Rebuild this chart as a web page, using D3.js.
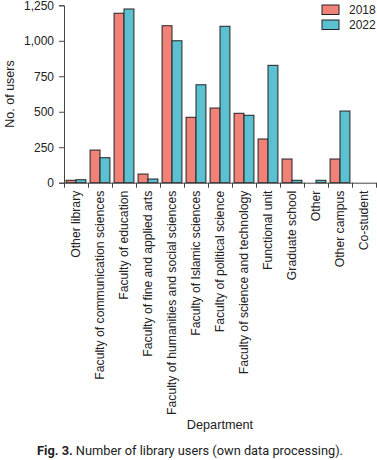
<!DOCTYPE html>
<html><head><meta charset="utf-8">
<script src="https://cdn.jsdelivr.net/npm/d3@7"></script>
<style>body{margin:0;background:#fff}svg{display:block}</style>
</head><body><svg id="c" width="377" height="460"></svg>
<script>
const categories = ["Other library","Faculty of communication sciences","Faculty of education","Faculty of fine and applied arts","Faculty of humanities and social sciences","Faculty of Islamic sciences","Faculty of political science","Faculty of science and technology","Functional unit","Graduate school","Other","Other campus","Co-student"];
const series = ["2018","2022"];
const values2018 = [17,230,1194,61,1106,461,526,489,308,167,0,167,0];
const values2022 = [21,176,1224,26,1000,690,1102,475,827,17,17,505,0];
const yTicks = [0,250,500,750,1000,1250];
const colors = ["#F1827A","#5BC1D0"];

const svg = d3.select("#c");
const font = "'Liberation Sans', Arial, sans-serif";
const L=64, R=376, T=5.3, B=182.7;
const x = d3.scaleBand().domain(categories).range([L,R]).paddingInner(0).paddingOuter(0);
const xs = d3.scaleBand().domain(series).range([0,x.bandwidth()]).paddingInner(0).paddingOuter(0.21);
const y = d3.scaleLinear().domain([0,1250]).range([B,T]);
const idx = d3.scaleLinear().domain([0,categories.length]).range([L,R]);

const data = categories.map((c,i)=>({c, v:[values2018[i],values2022[i]]}));
const g = svg.append("g");
g.selectAll("g.grp").data(data).join("g").attr("transform",d=>`translate(${x(d.c)},0)`)
 .selectAll("rect").data(d=>d.v.map((v,j)=>({s:series[j],v,j}))).join("rect")
 .filter(d=>d.v>0)
 .attr("x",d=>xs(d.s)).attr("width",xs.bandwidth())
 .attr("y",d=>y(d.v)).attr("height",d=>y(0)-y(d.v))
 .attr("fill",d=>colors[d.j]).attr("stroke","#222").attr("stroke-width",1);

// y axis
const ya = svg.append("g").attr("transform",`translate(${L},0)`)
 .call(d3.axisLeft(y).tickValues(yTicks).tickFormat(d3.format(",")).tickSize(5).tickPadding(5));
ya.selectAll("text").attr("font-family",font).attr("font-size",12).attr("fill","#222");
ya.selectAll("line,path").attr("stroke","#444");
// x axis boundary ticks
const xa = svg.append("g").attr("transform",`translate(0,${B})`)
 .call(d3.axisBottom(idx).tickValues(d3.range(0,categories.length+1)).tickFormat("").tickSize(5).tickSizeOuter(0));
xa.selectAll("line,path").attr("stroke","#444");
// x labels
const xl = svg.append("g").attr("transform",`translate(0,${B})`)
 .call(d3.axisBottom(x).tickSize(0).tickPadding(0));
xl.select("path").remove();
xl.selectAll("text").attr("font-family",font).attr("font-size",12.2).attr("fill","#222")
 .attr("transform","rotate(-90)").attr("text-anchor","end").attr("x",-8).attr("y",0).attr("dy","0.35em");

svg.append("text").attr("transform",`translate(14,${(T+B)/2}) rotate(-90)`).attr("text-anchor","middle")
 .attr("font-family",font).attr("font-size",12.5).attr("fill","#222").text("No. of users");
svg.append("text").attr("x",(L+R)/2).attr("y",429).attr("text-anchor","middle")
 .attr("font-family",font).attr("font-size",12.7).attr("fill","#222").text("Department");

// legend
const lg = svg.append("g");
series.forEach((s,j)=>{
  lg.append("rect").attr("x",322).attr("y",5+j*15).attr("width",17).attr("height",9.5)
    .attr("fill",colors[j]).attr("stroke","#222");
  lg.append("text").attr("x",349).attr("y",14.3+j*15).attr("font-family",font).attr("font-size",12).attr("fill","#222").text(s);
});

// caption
const cap = svg.append("text").attr("x",190).attr("y",455).attr("text-anchor","middle")
 .attr("font-family","Roboto, sans-serif").attr("font-size",12.8).attr("fill","#222");
cap.append("tspan").attr("font-weight","bold").text("Fig. 3.");
cap.append("tspan").text(" Number of library users (own data processing).");
</script></body></html>
